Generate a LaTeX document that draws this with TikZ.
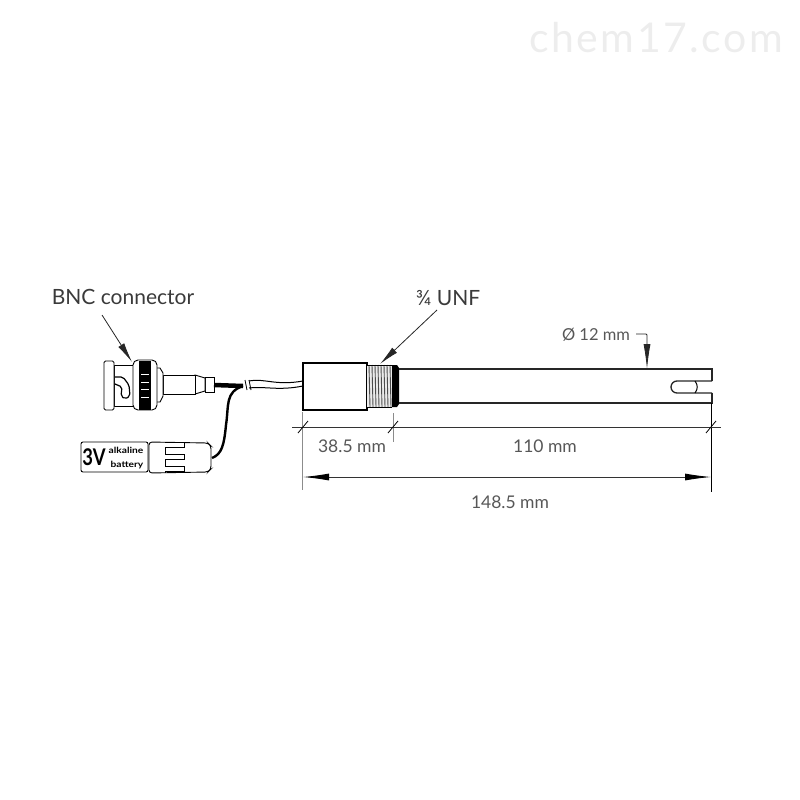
\documentclass[tikz,border=0pt]{standalone}
\usepackage{fontspec}
\setmainfont{Lato}
\usetikzlibrary{calc,arrows.meta}
\definecolor{inkgray}{HTML}{3A3A3A}
\tikzset{
  outline/.style={draw=black,line width=0.9pt,fill=white},
  tube/.style={draw=black!85,line width=1.3pt},
  dimline/.style={draw=black!80,line width=0.9pt},
  extline/.style={draw=black!45,line width=1pt},
  tickmark/.style={draw=black,line width=0.8pt},
  label/.style={text=inkgray,inner sep=0pt,font=\fontsize{21}{23}\selectfont},
  dimlabel/.style={text=inkgray!85,inner sep=0pt,font=\fontsize{17.5}{19}\selectfont},
  smalllabel/.style={inner sep=0pt,font=\fontsize{8.5}{9}\bfseries\selectfont,xscale=1.2},
  leader/.style={draw=black!85,line width=0.8pt,-{Latex[length=20pt,width=7pt]}},
  dimarrow/.style={dimline,{Latex[length=26pt,width=7pt,black]}-{Latex[length=26pt,width=7pt,black]}}
}

\begin{document}
\begin{tikzpicture}[x=1pt,y=-1pt]

% Fix the page
\useasboundingbox (0,0) rectangle (800,800);

% Define main points
\coordinate (BncTip) at (132,362);
\coordinate (BncFrom) at (102,315);
\coordinate (UnfTip) at (380,364);
\coordinate (UnfFrom) at (437,310);
\coordinate (CableEnd) at (243,386);
\coordinate (BatteryEnd) at (212,458);

% Watermark
\node[text=black!7,inner sep=0pt,font=\fontsize{41}{44}\selectfont\addfontfeature{LetterSpace=6}] (mark) at (656,38) {chem17.com};

% Draw the BNC connector
\draw[outline] (205,377) -- (214,377) -- (214,392) -- (205,392) -- cycle;
\draw[outline] (195,375) -- (205,378) -- (205,391) -- (195,394) -- cycle;
\draw[outline] (163,375) rectangle (195,394);
\draw[outline] (155,368) -- (160,368) -- (163,373) -- (163,396) -- (160,402) -- (155,402) -- cycle;
\draw[outline] (114,365) rectangle (136,406);
\draw[outline,rounded corners=1.5pt] (104,361) rectangle (114,410);
\draw[black,line width=1.2pt,fill=white,rounded corners=2pt] (115,377) -- (123,377) -- (129,385) -- (130,396) -- (125,399) -- (121,396) -- (122,387) -- (115,384);
\draw[outline,rounded corners=5pt] (133,360) rectangle (157,410);
\fill[black] (139,360.5) rectangle (151,409.5);
\foreach \y in {374,382,389,397}
  \draw[white,line width=1pt] (141,\y) -- (149,\y);

% Draw the cable
\draw[black,line width=4.5pt] (214,385) -- (CableEnd);
\draw[black,line width=1pt] (249,381) .. controls (265,378) and (275,386) .. (303,381);
\draw[black,line width=1pt] (249,388) .. controls (265,386) and (278,391) .. (303,386);
\draw[black,line width=0.8pt] (245,380) -- (247,390);
\draw[black,line width=0.8pt] (249,380) -- (251,390);

% Draw the battery wire
\draw[black,line width=2.4pt] (CableEnd) .. controls (225,392) and (229,405) .. (226,425) .. controls (224,445) and (222,454) .. (BatteryEnd);

% Draw the battery
\draw[outline,rounded corners=2pt] (81,442) rectangle (148,472);
\draw[outline,rounded corners=3pt] (149,442) -- (208,443) -- (211,446) -- (211,469) -- (208,472) -- (149,473) -- cycle;
\draw[black,line width=0.9pt] (165,442) -- (165,473);
\foreach \y in {445,457,469}
  \draw[black,line width=0.7pt,fill=white] (165,\y-2.5) -- (184,\y-2.5) -- (184,\y+2.5) -- (165,\y+2.5);
\node[inner sep=0pt,font=\fontsize{23}{24}\bfseries\selectfont,xscale=0.8] (volt) at (94,457) {3V};
\node[smalllabel] (alk) at (126,450) {alkaline};
\node[smalllabel] (bat) at (127,465) {battery};

% Draw the probe head
\draw[outline,line width=1.1pt] (303,363) rectangle (367,410);
\fill[black!8] (367,365) rectangle (392,407);
\foreach \x in {369,372,...,390}
  \draw[black!70,line width=0.9pt] (\x,365) -- (\x+1,407);
\draw[black,line width=1pt] (367,365) -- (392,365);
\draw[black,line width=1pt] (367,407) -- (392,407);
\fill[black] (392,365) -- (397,365) -- (399,368) -- (399,404) -- (397,407) -- (392,407) -- cycle;

% Draw the probe tube
\draw[tube] (399,369) -- (712,369) -- (712,381);
\draw[tube] (399,403) -- (712,403) -- (712,393);
\draw[tube] (712,381) -- (677,381) arc (270:90:6) -- (712,393);
\draw[black,line width=1pt] (695,381) .. controls (698,385) and (698,389) .. (695,393);

% Define dimension points
\coordinate (DimL) at (303,427);
\coordinate (DimM) at (393,427);
\coordinate (DimR) at (711,427);
\coordinate (DimStart) at (292,427);
\coordinate (DimEnd) at (721,427);
\coordinate (TotalL) at (303,477);
\coordinate (TotalR) at (711,477);

% Draw extension lines
\draw[extline] (302,412) -- (302,490);
\draw[extline] (393,413) -- (393,442);
\draw[black,line width=1pt] (711,403) -- (711,492);

% Draw dimension lines
\draw[dimline] (DimStart) -- (DimEnd);
\draw[dimarrow] (TotalL) -- (TotalR);
\foreach \p in {DimL,DimM,DimR}
  \draw[tickmark] ($(\p)+(-5,6)$) -- ($(\p)+(5,-6)$);

% Draw leader arrows
\draw[leader] (BncFrom) -- (BncTip);
\draw[leader] (UnfFrom) -- (UnfTip);
\coordinate (PhiTip) at (647,369);
\draw[draw=black!85,line width=0.8pt,rounded corners=1pt,-{Latex[length=25pt,width=7pt]}] (636,334) -- (647,334) -- (PhiTip);

% Labels
\node[label] (bnc) at (123,297) {BNC connector};
\node[label] (unf) at (448,298) {¾ UNF};
\node[dimlabel,font=\fontsize{16.5}{18}\selectfont] (phi) at (596,335) {Ø 12 mm};
\node[dimlabel] (d1) at (352,446) {38.5 mm};
\node[dimlabel] (d2) at (545,446) {110 mm};
\node[dimlabel] (d3) at (510,502) {148.5 mm};

\end{tikzpicture}
\end{document}
